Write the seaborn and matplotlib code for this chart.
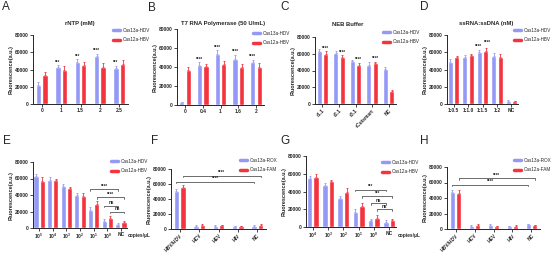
import matplotlib
matplotlib.use("Agg")
import matplotlib.pyplot as plt
import pandas as pd
import seaborn as sns
from matplotlib.lines import Line2D

W, H = 554, 256
BLUE = "#9599f6"
RED = "#f3333d"

# ---- data ----
hdv_hbv = ["Cas13a-HDV", "Cas12a-HBV"]
rox_fam = ["Cas13a-ROX", "Cas12a-FAM"]

a_groups = ["0", "1", "1.5", "2", "2.5"]
a_hdv = [22000, 43000, 49000, 55500, 41500]
a_hdv_err = [4000, 2000, 3000, 2500, 3000]
a_hbv = [34000, 40000, 45500, 43000, 46500]
a_hbv_err = [3500, 3500, 3500, 4000, 4000]
a_stars = ["", "***", "***", "****", "***"]

b_groups = ["0", "0.4", "1", "1.6", "2"]
b_hdv = [3000, 42000, 54000, 48000, 45000]
b_hdv_err = [600, 3000, 3500, 4500, 2500]
b_hbv = [36500, 41000, 43000, 40000, 40000]
b_hbv_err = [3000, 2000, 3500, 3000, 4500]
b_stars = ["", "****", "****", "****", "****"]

c_groups = ["r1.1", "r2.1", "r3.1", "rCutsmart", "NC"]
c_hdv = [63000, 61000, 51000, 47000, 42000]
c_hdv_err = [2500, 2000, 1500, 3000, 2000]
c_hbv = [60000, 56000, 46000, 48500, 15000]
c_hbv_err = [3000, 2000, 3000, 2000, 2000]
c_stars = ["****", "****", "****", "****", ""]

d_groups = ["1:0.5", "1:1.0", "1:1.5", "1:2", "NC"]
d_hdv = [48500, 55000, 60000, 56000, 4000]
d_hdv_err = [4000, 2000, 3000, 3000, 500]
d_hbv = [54000, 57000, 62000, 55000, 3500]
d_hbv_err = [2000, 1500, 2500, 3000, 500]
d_stars = ["", "", "****", "", ""]

e_groups = ["$10^5$", "$10^4$", "$10^3$", "$10^2$", "$10^1$", "$10^0$", "NC"]
e_hdv = [63000, 58000, 51000, 40000, 22000, 8500, 5000]
e_hdv_err = [3000, 4000, 2500, 2500, 4000, 2500, 1500]
e_hbv = [57500, 58000, 48500, 38500, 29000, 12000, 7500]
e_hbv_err = [4000, 1500, 1500, 3500, 4000, 2000, 1500]
e_brackets = [(4, 0, 6, 0, 47000, "****"), (4, 1, 6, 1, 37000, "****"),
              (5, 0, 6, 0, 27000, "ns"), (5, 1, 6, 1, 19500, "ns")]

f_groups = ["HBV/HDV", "HCV", "HEV", "HIV", "NC"]
f_rox = [51000, 4500, 4500, 4000, 4500]
f_rox_err = [2500, 1000, 800, 500, 800]
f_fam = [56000, 6000, 5000, 4000, 5500]
f_fam_err = [3000, 800, 600, 500, 800]
f_brackets = [(0, 1, 4, 1, 71000, "****"), (0, 0, 4, 0, 63000, "****")]

g_groups = ["$10^4$", "$10^3$", "$10^2$", "$10^1$", "$10^0$", "NC"]
g_hdv = [55000, 47000, 33000, 16500, 7500, 6000]
g_hdv_err = [3000, 3000, 2000, 3500, 1000, 1500]
g_hbv = [56000, 51500, 39000, 23500, 10000, 7500]
g_hbv_err = [4000, 2000, 4500, 4000, 3000, 1500]
g_brackets = [(3, 0, 5, 0, 42000, "***"), (3, 1, 5, 1, 34500, "***"),
              (4, 0, 5, 0, 26500, "ns"), (4, 1, 5, 1, 20000, "ns")]

h_groups = ["HBV/HDV", "HCV", "HEV", "HIV", "NC"]
h_rox = [48000, 4500, 5000, 4000, 6000]
h_rox_err = [2000, 500, 1000, 500, 1000]
h_fam = [46500, 5500, 4000, 4500, 5000]
h_fam_err = [4000, 800, 500, 600, 800]
h_brackets = [(0, 1, 4, 1, 65500, "****"), (0, 0, 4, 0, 57000, "****")]


sns.set_style("ticks")
plt.rcParams["font.family"] = ["Liberation Sans", "DejaVu Sans"]
plt.rcParams["mathtext.default"] = "regular"

fig = plt.figure(figsize=(W / 100, H / 100), dpi=100)


def make_axes(left, top, right, bottom):
    return fig.add_axes([left / W, 1 - bottom / H, (right - left) / W, (bottom - top) / H])


def bar_panel(rect, groups, names, v1, e1, v2, e2, rotate=False):
    ax = make_axes(*rect)
    n = len(groups)
    spacing = (rect[2] - rect[0]) / (n - 0.1)
    df = pd.DataFrame({"group": groups * 2, "probe": [names[0]] * n + [names[1]] * n, "value": v1 + v2})
    sns.barplot(data=df, x="group", y="value", hue="probe", order=groups, hue_order=names,
                palette=[BLUE, RED], saturation=1, width=min(13.0 / spacing, 0.92), gap=0.18,
                errorbar=None, legend=False, ax=ax)
    for cont, vals, errs, col in zip(ax.containers, [v1, v2], [e1, e2], [BLUE, RED]):
        xs = [p.get_x() + p.get_width() / 2 for p in cont]
        ax.errorbar(xs, vals, yerr=[[0] * n, errs], fmt="none", ecolor=col,
                    elinewidth=0.6, capsize=1, capthick=0.6)
    ax.set_xlim(-0.45, n - 0.55)
    ax.set_ylim(0, 80000)
    ax.set_yticks([0, 20000, 40000, 60000, 80000])
    ax.set_xlabel("")
    ax.set_ylabel("Fluorescence(a.u.)", fontsize=4, fontweight="bold", labelpad=1)
    ax.tick_params(length=2, width=0.6, pad=1, labelsize=3.5)
    for lab in ax.get_xticklabels() + ax.get_yticklabels():
        lab.set_fontweight("bold")
    if rotate:
        for lab in ax.get_xticklabels():
            lab.set_rotation(45)
            lab.set_ha("right")
            lab.set_rotation_mode("anchor")
    for s in ["left", "bottom"]:
        ax.spines[s].set_linewidth(0.7)
    sns.despine(ax=ax)
    return ax


def bar_x(ax, g, h):
    p = ax.containers[h][g]
    return p.get_x() + p.get_width() / 2


def stars(ax, labels, vals, errs, h, lift=800, dx=0.0):
    for g, (lab, v, e) in enumerate(zip(labels, vals, errs)):
        if lab:
            ax.text(bar_x(ax, g, h) + dx, v + e + lift, lab, ha="center", va="bottom",
                    fontsize=3.3, fontweight="bold")


def brackets(ax, items):
    for g1, h1, g2, h2, y, lab in items:
        x1, x2 = bar_x(ax, g1, h1), bar_x(ax, g2, h2)
        ax.plot([x1, x1, x2, x2], [y - 1800, y, y, y - 1800], color="#333333", lw=0.5, clip_on=False)
        ax.text((x1 + x2) / 2, y + 700, lab, ha="center", va="bottom", fontsize=3.3, fontweight="bold")


def legend(names, x, y):
    handles = [Line2D([0], [0], color=c, lw=2.5) for c in [BLUE, RED]]
    fig.legend(handles, names, loc="upper left", bbox_to_anchor=(x / W, 1 - (y - 3) / H),
               frameon=False, fontsize=3.3, handlelength=1.6, handletextpad=0.6,
               labelspacing=0.9, borderpad=0, borderaxespad=0)


def title(text, x, y):
    fig.text(x / W, 1 - y / H, text, ha="center", va="center", fontsize=4.2, fontweight="bold")


def letter(text, x, y):
    fig.text(x / W, 1 - y / H, text, ha="left", va="center", fontsize=8.5)


ax = bar_panel((33, 35, 128, 104), a_groups, hdv_hbv, a_hdv, a_hdv_err, a_hbv, a_hbv_err)
stars(ax, a_stars, a_hdv, a_hdv_err, 0)
title("rNTP (mM)", 80, 23)
legend(hdv_hbv, 113, 31)
letter("A", 2, 7)

ax = bar_panel((177, 29, 264, 105), b_groups, hdv_hbv, b_hdv, b_hdv_err, b_hbv, b_hbv_err)
stars(ax, b_stars, b_hdv, b_hdv_err, 0)
title("T7 RNA Polymerase (50 U/mL)", 223, 23)
legend(hdv_hbv, 253, 34)
letter("B", 148, 8)

ax = bar_panel((315, 37, 396, 104), c_groups, hdv_hbv, c_hdv, c_hdv_err, c_hbv, c_hbv_err, rotate=True)
stars(ax, c_stars, c_hbv, c_hbv_err, 1)
title("NEB Buffer", 348, 24)
legend(hdv_hbv, 383, 33)
letter("C", 280, 7)

ax = bar_panel((447, 35, 518, 104), d_groups, hdv_hbv, d_hdv, d_hdv_err, d_hbv, d_hbv_err)
stars(ax, d_stars, d_hdv, d_hdv_err, 0, dx=-0.08)
stars(ax, d_stars, d_hbv, d_hbv_err, 1, lift=4200, dx=0.12)
title("ssRNA:ssDNA (nM)", 486, 24)
legend(hdv_hbv, 514, 31)
letter("D", 420, 7)

ax = bar_panel((33, 162, 127, 228), e_groups, hdv_hbv, e_hdv, e_hdv_err, e_hbv, e_hbv_err)
brackets(ax, e_brackets)
legend(hdv_hbv, 111, 162)
fig.text(128 / W, 1 - 236 / H, "copies/\u00b5L", fontsize=3.5, fontweight="bold", va="center")
letter("E", 3, 141)

ax = bar_panel((171, 169, 266, 229), f_groups, rox_fam, f_rox, f_rox_err, f_fam, f_fam_err, rotate=True)
brackets(ax, f_brackets)
legend(rox_fam, 240, 161)
letter("F", 151, 141)

ax = bar_panel((306, 156, 396, 227), g_groups, hdv_hbv, g_hdv, g_hdv_err, g_hbv, g_hbv_err)
brackets(ax, g_brackets)
legend(hdv_hbv, 382, 163)
fig.text(398 / W, 1 - 235 / H, "copies/\u00b5L", fontsize=3.5, fontweight="bold", va="center")
letter("G", 280, 141)

ax = bar_panel((447, 167, 540, 229), h_groups, rox_fam, h_rox, h_rox_err, h_fam, h_fam_err, rotate=True)
brackets(ax, h_brackets)
legend(rox_fam, 514, 161)
letter("H", 420, 141)

fig.savefig("out.png", dpi=100)
